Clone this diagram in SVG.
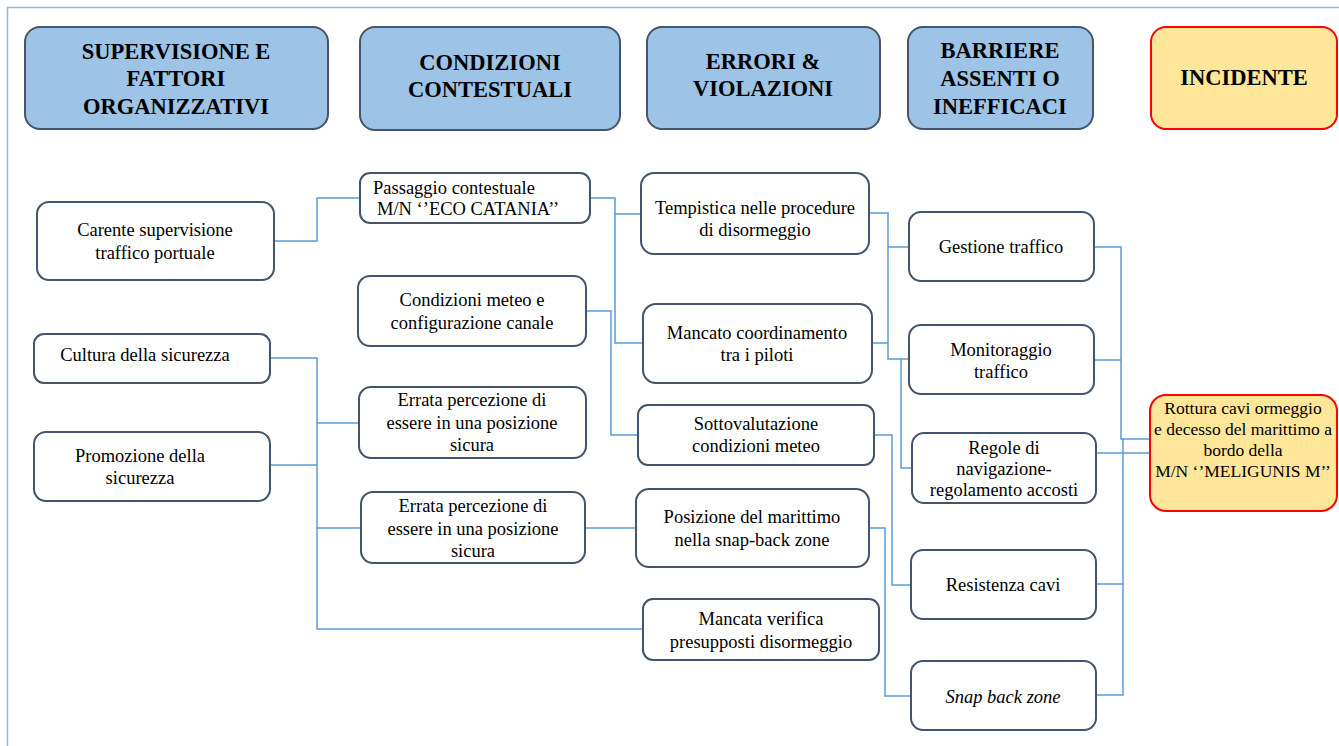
<svg xmlns="http://www.w3.org/2000/svg" width="1339" height="746" viewBox="0 0 1339 746">
<style>
.hdr{fill:#9DC3E6;stroke:#44546A;stroke-width:2}
.inc{fill:#FFE699;stroke:#FF0000;stroke-width:2}
.nd{fill:#FFFFFF;stroke:#44546A;stroke-width:2}
.ht{font-family:'Liberation Serif','Times New Roman',serif;font-weight:bold;font-size:22.5px;fill:#000;text-anchor:middle}
.t{font-family:'Liberation Serif','Times New Roman',serif;font-size:18.5px;fill:#000;text-anchor:middle}
.tl{font-family:'Liberation Serif','Times New Roman',serif;font-size:18.5px;fill:#000;text-anchor:start}
.ts{font-family:'Liberation Serif','Times New Roman',serif;font-size:17.5px;fill:#000;text-anchor:middle}
.c{fill:none;stroke:#5B9BD5;stroke-width:1.5}
</style>
<rect width="1339" height="746" fill="#FFFFFF"/>
<path d="M7.5 746 V7.5 H1339" fill="none" stroke="#8FB4DE" stroke-width="1.5"/>

<g id="connectors">
<path class="c" d="M274 241 H317 V198 H360"/>
<path class="c" d="M590 198 H615 V343 H643 M615 214 H641"/>
<path class="c" d="M586 311 H611 V435 H638"/>
<path class="c" d="M270 358 H317 V629 H643 M270 465 H317 M317 423 H359 M317 528 H361"/>
<path class="c" d="M585 528 H636"/>
<path class="c" d="M869 213 H888 V359 H909 M888 247 H909 M872 343 H888 M901 359 V468 H912"/>
<path class="c" d="M874 435 H892 V585 H911"/>
<path class="c" d="M869 528 H885 V696 H911"/>
<path class="c" d="M1094 247 H1121 V439 H1150 M1094 360 H1121 M1123 439 V695 H1096 M1096 584 H1123 M1096 453 H1150"/>
</g>

<g id="h-supervisione"><rect class="hdr" x="25" y="27" width="303" height="102" rx="15"/>
<text class="ht" x="176" y="59">SUPERVISIONE E</text><text class="ht" x="176" y="86">FATTORI</text><text class="ht" x="176" y="114">ORGANIZZATIVI</text></g>
<g id="h-condizioni"><rect class="hdr" x="360" y="27" width="260" height="103" rx="15"/>
<text class="ht" x="490" y="70">CONDIZIONI</text><text class="ht" x="490" y="97">CONTESTUALI</text></g>
<g id="h-errori"><rect class="hdr" x="647" y="27" width="233" height="102" rx="15"/>
<text class="ht" x="763" y="69">ERRORI &amp;</text><text class="ht" x="763" y="96">VIOLAZIONI</text></g>
<g id="h-barriere"><rect class="hdr" x="908" y="27" width="185" height="102" rx="15"/>
<text class="ht" x="1000" y="58">BARRIERE</text><text class="ht" x="1000" y="86">ASSENTI O</text><text class="ht" x="1000" y="114">INEFFICACI</text></g>
<g id="h-incidente"><rect class="inc" x="1151" y="27" width="186" height="102" rx="15"/>
<text class="ht" x="1244" y="85">INCIDENTE</text></g>

<g id="n-carente"><rect class="nd" x="37" y="202" width="237" height="78" rx="12"/>
<text class="t" x="155" y="236">Carente supervisione</text><text class="t" x="155" y="259">traffico portuale</text></g>
<g id="n-cultura"><rect class="nd" x="34" y="334" width="236" height="49" rx="10"/>
<text class="t" x="145" y="361">Cultura della sicurezza</text></g>
<g id="n-promozione"><rect class="nd" x="34" y="432" width="236" height="69" rx="12"/>
<text class="t" x="140" y="462">Promozione della</text><text class="t" x="140" y="484">sicurezza</text></g>

<g id="n-passaggio"><rect class="nd" x="360" y="173" width="230" height="50" rx="10"/>
<text class="tl" x="373" y="194">Passaggio contestuale</text><text class="tl" x="377" y="215">M/N ‘’ECO CATANIA’’</text></g>
<g id="n-meteo"><rect class="nd" x="358" y="276" width="228" height="70" rx="12"/>
<text class="t" x="472" y="306">Condizioni meteo e</text><text class="t" x="472" y="329">configurazione canale</text></g>
<g id="n-errata1"><rect class="nd" x="359" y="387" width="227" height="71" rx="12"/>
<text class="t" x="472" y="406">Errata percezione di</text><text class="t" x="472" y="429">essere in una posizione</text><text class="t" x="472" y="451">sicura</text></g>
<g id="n-errata2"><rect class="nd" x="361" y="492" width="224" height="71" rx="12"/>
<text class="t" x="473" y="512">Errata percezione di</text><text class="t" x="473" y="535">essere in una posizione</text><text class="t" x="473" y="557">sicura</text></g>

<g id="n-tempistica"><rect class="nd" x="641" y="173" width="228" height="81" rx="13"/>
<text class="t" x="755" y="214">Tempistica nelle procedure</text><text class="t" x="755" y="236">di disormeggio</text></g>
<g id="n-mancato"><rect class="nd" x="643" y="304" width="229" height="79" rx="13"/>
<text class="t" x="757" y="339">Mancato coordinamento</text><text class="t" x="757" y="361">tra i piloti</text></g>
<g id="n-sottovalutazione"><rect class="nd" x="638" y="405" width="236" height="60" rx="10"/>
<text class="t" x="756" y="430">Sottovalutazione</text><text class="t" x="756" y="452">condizioni meteo</text></g>
<g id="n-posizione"><rect class="nd" x="636" y="489" width="233" height="78" rx="13"/>
<text class="t" x="752" y="523">Posizione del marittimo</text><text class="t" x="752" y="546">nella snap-back zone</text></g>
<g id="n-verifica"><rect class="nd" x="643" y="599" width="236" height="61" rx="10"/>
<text class="t" x="761" y="625">Mancata verifica</text><text class="t" x="761" y="648">presupposti disormeggio</text></g>

<g id="n-gestione"><rect class="nd" x="909" y="212" width="185" height="69" rx="12"/>
<text class="t" x="1001" y="253">Gestione traffico</text></g>
<g id="n-monitoraggio"><rect class="nd" x="909" y="325" width="185" height="69" rx="12"/>
<text class="t" x="1001" y="356">Monitoraggio</text><text class="t" x="1001" y="378">traffico</text></g>
<g id="n-regole"><rect class="nd" x="912" y="433" width="184" height="70" rx="12"/>
<text class="t" x="1004" y="454">Regole di</text><text class="t" x="1004" y="475">navigazione-</text><text class="t" x="1004" y="496">regolamento accosti</text></g>
<g id="n-resistenza"><rect class="nd" x="911" y="550" width="185" height="69" rx="12"/>
<text class="t" x="1003" y="591">Resistenza cavi</text></g>
<g id="n-snapback"><rect class="nd" x="911" y="661" width="185" height="69" rx="12"/>
<text class="t" x="1003" y="703" font-style="italic">Snap back zone</text></g>

<g id="n-rottura"><rect class="inc" x="1150" y="395" width="187" height="116" rx="16"/>
<text class="ts" x="1243" y="414">Rottura cavi ormeggio</text><text class="ts" x="1243" y="435">e decesso del marittimo a</text><text class="ts" x="1243" y="456">bordo della</text><text class="ts" x="1243" y="477">M/N ‘’MELIGUNIS M’’</text></g>
</svg>
